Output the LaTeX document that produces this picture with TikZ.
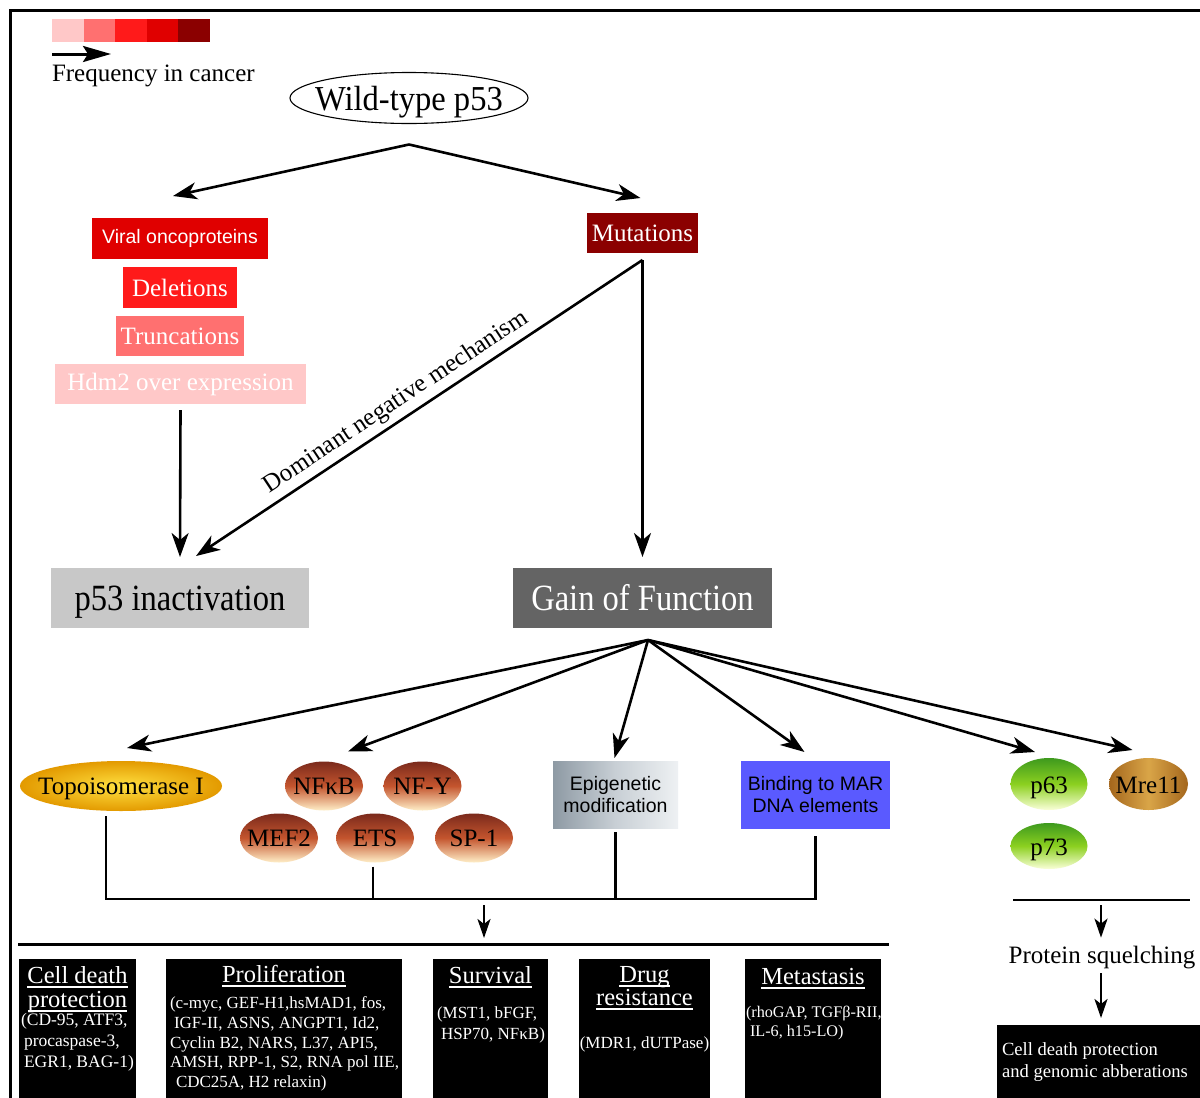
\documentclass[tikz,border=0pt]{standalone}
\usepackage{fontspec}
\setmainfont{Liberation Serif}
\setsansfont{Liberation Sans}
\newfontfamily\condserif[FakeStretch=0.88]{Liberation Serif}
\newfontfamily\wtserif[FakeStretch=0.93]{Liberation Serif}
\usetikzlibrary{arrows.meta,shapes.geometric,calc}
\definecolor{f1}{HTML}{FFC8C8}
\definecolor{f2}{HTML}{FF7070}
\definecolor{f3}{HTML}{FF1A1A}
\definecolor{f4}{HTML}{E00000}
\definecolor{f5}{HTML}{8B0000}
\definecolor{inactG}{HTML}{C8C8C8}
\definecolor{gofG}{HTML}{646464}
\definecolor{marB}{HTML}{5A5AFF}
\definecolor{tfTop}{HTML}{7B2A1C}
\definecolor{tfMid}{HTML}{C4552E}
\definecolor{tfBot}{HTML}{FFEFC8}
\definecolor{gTop}{HTML}{3E9A1E}
\definecolor{gMid}{HTML}{8CD020}
\definecolor{gBot}{HTML}{FAFFD8}
\definecolor{topoIn}{HTML}{FFE040}
\definecolor{topoOut}{HTML}{E39A00}
\definecolor{mreA}{HTML}{A4661C}
\definecolor{mreB}{HTML}{D9A548}
\definecolor{epiA}{HTML}{8E9AA4}
\definecolor{epiB}{HTML}{C8CFD5}
\definecolor{epiC}{HTML}{EEF1F3}
\begin{document}
\begin{tikzpicture}[x=1pt,y=-1pt,
  every node/.style={inner sep=0pt, outer sep=0pt},
  s25/.style={font=\fontsize{25}{30}\selectfont},
  etx/.style={anchor=base, s25},
  arr/.style={line width=2.6pt,-{Stealth[length=24pt,width=17pt,inset=7pt]}},
  arrS/.style={line width=2.6pt,-{Stealth[length=19pt,width=13pt,inset=5pt]}},
  ln/.style={line width=2.8pt},
  box/.style={rectangle, text=white},
  sq/.style={rectangle, minimum width=31.8pt, minimum height=23pt},
  tf/.style={ellipse, minimum width=78pt, minimum height=49pt, top color=tfTop, bottom color=tfBot, middle color=tfMid},
  grn/.style={ellipse, top color=gTop, bottom color=gBot, middle color=gMid},
  bk/.style={rectangle, fill=black, anchor=north west, minimum height=150pt},
  ttl/.style={anchor=base, text=white, font=\fontsize{24.5}{28}\selectfont},
  bdy/.style={text=white, align=left, font=\fontsize{17}{19.6}\selectfont},
  ul/.style={white, line width=1.5pt}
]
\useasboundingbox (0,0) rectangle (1200,1098);
\fill[white] (0,0) rectangle (1200,1098);
\draw[line width=3pt] (10,1130) -- (10,10) -- (1230,10);

% legend
\node[sq, fill=f1] (sq1) at (67.9,30.5) {};
\node[sq, fill=f2] (sq2) at (99.5,30.5) {};
\node[sq, fill=f3] (sq3) at (131.1,30.5) {};
\node[sq, fill=f4] (sq4) at (162.7,30.5) {};
\node[sq, fill=f5] (sq5) at (194.3,30.5) {};
\coordinate (lgA) at (52,54);
\coordinate (lgB) at (111,54);
\draw[line width=3pt,-{Stealth[length=28pt,width=16pt,inset=5pt]}] (lgA) -- (lgB);
\node[anchor=base west, s25] (freq) at (52,81) {Frequency in cancer};

% top
\node[ellipse, draw, line width=1.1pt, minimum width=238pt, minimum height=51pt] (wt) at (409,98) {};
\node[anchor=base, font=\wtserif\fontsize{35}{40}\selectfont] (wtT) at (409,110) {Wild-type p53};
\node[box, fill=f4, minimum width=176pt, minimum height=41pt, font=\sffamily\fontsize{19.5}{23}\selectfont] (viral) at (180,238.5) {Viral oncoproteins};
\node[box, fill=f3, minimum width=114pt, minimum height=41pt, s25] (del) at (180,287.5) {Deletions};
\node[box, fill=f2, minimum width=128pt, minimum height=40pt, s25] (trunc) at (180,336) {Truncations};
\node[box, fill=f1, minimum width=251pt, minimum height=40pt, s25] (hdm) at (180.5,384) {Hdm2 over expression};
\node[box, fill=f5, minimum width=111pt, minimum height=40pt, s25] (mut) at (642.5,233) {Mutations};
\node[box, fill=inactG, text=black, minimum width=258pt, minimum height=60pt, text depth=0pt, font=\condserif\fontsize{37}{40}\selectfont] (inact) at (180,598) {p53 inactivation};
\node[box, fill=gofG, minimum width=259pt, minimum height=60pt, font=\condserif\fontsize{37}{40}\selectfont] (gof) at (642.5,598) {Gain of Function};

\coordinate (wtb) at ([yshift=-21pt]wt.south);
\draw[arr] (wtb) -- ([xshift=-7pt,yshift=22pt]viral.north);
\draw[arr] (wtb) -- ([xshift=-2pt,yshift=15pt]mut.north);
\coordinate (mutb) at ([yshift=-7pt]mut.south);
\draw[arr] (mutb) -- ([yshift=11pt]gof.north);
\draw[arr] (mutb) -- node[pos=0.53, sloped, above=6pt, s25] (dn) {Dominant negative mechanism} ([xshift=16pt,yshift=12pt]inact.north);
\draw[arr] ([yshift=-6pt]hdm.south) -- ([yshift=11pt]inact.north);

% gain of function targets
\node[ellipse, minimum width=202pt, minimum height=50pt, inner color=topoIn, outer color=topoOut] (topo) at (121,786) {};
\node[etx] (topoT) at ($(topo.center)+(0,8.5)$) {Topoisomerase I};
\node[tf] (nfkb) at (324,786) {};
\node[etx] (nfkbT) at ($(nfkb.center)+(0,8.5)$) {NFκB};
\node[tf] (nfy) at (422.5,786) {};
\node[etx] (nfyT) at ($(nfy.center)+(0,8.5)$) {NF-Y};
\node[tf] (mef) at (279,838) {};
\node[etx] (mefT) at ($(mef.center)+(0,8.5)$) {MEF2};
\node[tf] (ets) at (375,838) {};
\node[etx] (etsT) at ($(ets.center)+(0,8.5)$) {ETS};
\node[tf] (sp1) at (474,838) {};
\node[etx] (sp1T) at ($(sp1.center)+(0,8.5)$) {SP-1};
\node[rectangle, minimum width=125pt, minimum height=67pt, left color=epiA, right color=epiC, middle color=epiB, align=center, font=\sffamily\fontsize{19.5}{22}\selectfont] (epi) at (615.5,794.5) {Epigenetic\\modification};
\node[rectangle, fill=marB, minimum width=149pt, minimum height=68pt, align=center, font=\sffamily\fontsize{19.5}{22}\selectfont] (mar) at (815.5,795) {Binding to MAR\\DNA elements};
\node[grn, minimum width=77pt, minimum height=52pt] (p63) at (1049,784) {};
\node[etx] (p63T) at ($(p63.center)+(0,9)$) {p63};
\node[ellipse, minimum width=79pt, minimum height=52pt, shading angle=45, left color=mreA, right color=mreA, middle color=mreB] (mre) at (1148.5,784) {};
\node[etx] (mreT) at ($(mre.center)+(0,9)$) {Mre11};
\node[grn, minimum width=77pt, minimum height=46pt] (p73) at (1049,846) {};
\node[etx] (p73T) at ($(p73.center)+(0,9)$) {p73};

\coordinate (gf) at ([xshift=5.5pt,yshift=-12pt]gof.south);
\draw[arr] (gf) -- ([xshift=6pt,yshift=13pt]topo.north);
\draw[arr] (gf) -- ([xshift=24pt,yshift=10pt]nfkb.north);
\draw[arr] (gf) -- ([xshift=-1pt,yshift=3pt]epi.north);
\draw[arr] (gf) -- ([xshift=-11pt,yshift=9pt]mar.north);
\draw[arr] (gf) -- ([xshift=-14pt,yshift=6pt]p63.north);
\draw[arr] (gf) -- ([xshift=-16pt,yshift=8pt]mre.north);

% joining bar
\coordinate (barL) at (106,899);
\coordinate (barR) at (815.5,899);
\draw[ln] ([xshift=-15pt,yshift=-5pt]topo.south) -- (barL) -- (barR) -- ([yshift=-7pt]mar.south);
\draw[ln] ([xshift=-2pt,yshift=-4pt]ets.south) -- ([xshift=-2pt]ets.south |- barL);
\draw[ln] ([yshift=-4pt]epi.south) -- (epi.south |- barL);
\coordinate (barA) at (484,905);
\coordinate (hl1) at (18,944);
\coordinate (hl2) at (889,944);
\draw[line width=3pt] (hl1) -- (hl2);
\draw[arrS] (barA) -- ([yshift=6pt]barA |- hl1);

% bottom boxes
\node[bk, minimum width=117pt] (cdB) at (19,959) {};
\node[bk, minimum width=236pt] (proB) at (166,959) {};
\node[bk, minimum width=115pt] (surB) at (433,959) {};
\node[bk, minimum width=131pt] (drgB) at (579,959) {};
\node[bk, minimum width=136pt] (metB) at (745,959) {};

\node[ttl] (cdT1) at (77.5,983) {Cell death};
\node[ttl] (cdT2) at (77.5,1007) {protection};
\node[ttl] (proT) at (284,982) {Proliferation};
\node[ttl] (surT) at (490.5,983) {Survival};
\node[ttl] (drgT1) at (644.5,982) {Drug};
\node[ttl] (drgT2) at (644.5,1005) {resistance};
\node[ttl] (metT) at (813,984) {Metastasis};
\foreach \t in {cdT1,cdT2,proT,surT,drgT1,drgT2,metT}
  \draw[ul] ([yshift=-4pt]\t.base west) -- ([yshift=-4pt]\t.base east);

\node[bdy, anchor=west, font=\fontsize{17.5}{21}\selectfont] (cdX) at (21,1042) {(CD-95, ATF3,\\\hspace*{3pt}procaspase-3,\\\hspace*{3pt}EGR1, BAG-1)};
\node[bdy, anchor=west] (proX) at (170,1044) {(c-myc, GEF-H1,hsMAD1, fos,\\\hspace*{4pt}IGF-II, ASNS, ANGPT1, Id2,\\Cyclin B2, NARS, L37, API5,\\AMSH, RPP-1, S2, RNA pol IIE,\\\hspace*{6pt}CDC25A, H2 relaxin)};
\node[bdy, anchor=west, font=\fontsize{17}{21}\selectfont] (surX) at (437,1025) {(MST1, bFGF,\\\hspace*{4pt}HSP70, NFκB)};
\node[bdy, anchor=center] (drgX) at (644.5,1044) {(MDR1, dUTPase)};
\node[bdy, anchor=west, font=\fontsize{16.2}{19}\selectfont] (metX) at (746,1023) {(rhoGAP, TGFβ-RII,\\\hspace*{4pt}IL-6, h15-LO)};

% right branch
\coordinate (rl1) at (1013,900);
\coordinate (rl2) at (1190,900);
\draw[line width=2.8pt] (rl1) -- (rl2);
\node[anchor=base, font=\fontsize{25}{29}\selectfont] (ps) at (1102,963) {Protein squelching};
\coordinate (rlA) at (1101,905);
\draw[arrS] (rlA) -- ([xshift=-1pt,yshift=8pt]ps.north);
\node[bk, minimum width=230pt, minimum height=90pt] (cdg) at (997,1025) {};
\node[anchor=west, align=left, text=white, font=\fontsize{18.6}{22.5}\selectfont] (cdgT) at (1002,1062) {Cell death protection\\and genomic abberations};
\draw[arrS] ([xshift=-1pt,yshift=-5pt]ps.south) -- ([xshift=-1pt,yshift=7pt]ps.south |- cdg.north);
\end{tikzpicture}
\end{document}
